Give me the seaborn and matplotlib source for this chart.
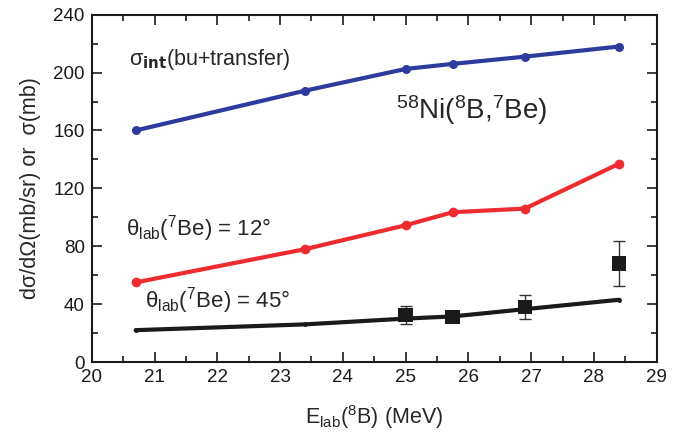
import numpy as np
import pandas as pd
import matplotlib
matplotlib.use("Agg")
import matplotlib.pyplot as plt
import seaborn as sns
from matplotlib.ticker import MultipleLocator

# beam energies (MeV)
energy = [20.7, 23.4, 25.0, 25.75, 26.9, 28.4]
# integrated cross section (bu+transfer), mb
sigma_int = [160, 187.5, 202.5, 206, 211, 218]
# angular cross sections, mb/sr
theta12 = [55, 78, 94.5, 103.5, 106, 137]
theta45 = [22, 26, 30, 31.5, 36.5, 43]
# experimental points at 45 deg
exp_energy = [25.0, 25.75, 26.9, 28.4]
exp_value = [32.5, 31, 38, 68]
exp_err = [6.5, 2, 8.5, 15.5]

sns.set_style("ticks")
plt.rcParams["font.family"] = ["Liberation Sans", "DejaVu Sans"]
plt.rcParams["mathtext.default"] = "regular"

df = pd.DataFrame({
    "E": energy * 3,
    "val": sigma_int + theta12 + theta45,
    "curve": ["int"] * 6 + ["12"] * 6 + ["45"] * 6,
})

fig = plt.figure(figsize=(6.96, 4.45), dpi=100)
ax = fig.add_axes([0.1318, 0.1865, 0.8117, 0.7805])

colors = {"int": "#2e3a9c", "12": "#ee2b2f", "45": "#1a1a1a"}
sizes = {"int": 6.5, "12": 7, "45": 3.5}
for key in ["int", "12", "45"]:
    sub = df[df["curve"] == key]
    sns.lineplot(data=sub, x="E", y="val", ax=ax, color=colors[key], lw=3,
                 marker="o", markersize=sizes[key], markeredgewidth=0, legend=False)

ax.errorbar(exp_energy, exp_value, yerr=exp_err, fmt="none", ecolor="#333333",
            elinewidth=1.0, capsize=4, capthick=1.0, zorder=4)
sns.scatterplot(x=exp_energy, y=exp_value, ax=ax, marker="s", s=110,
                color="#1a1a1a", edgecolor="none", zorder=5)

ax.set_xlim(20, 29)
ax.set_ylim(0, 240)
ax.xaxis.set_major_locator(MultipleLocator(1))
ax.xaxis.set_minor_locator(MultipleLocator(0.5))
ax.yaxis.set_major_locator(MultipleLocator(40))
ax.yaxis.set_minor_locator(MultipleLocator(20))
ax.tick_params(which="both", direction="in", top=True, right=True, width=1.2,
               labelsize=13.5, colors="#1a1a1a")
ax.tick_params(which="major", length=7, pad=5)
ax.tick_params(which="minor", length=4)
for s in ax.spines.values():
    s.set_linewidth(1.5)
    s.set_color("#1a1a1a")

ax.set_xlabel("E$_{lab}$($^{8}$B) (MeV)", fontsize=15.5, labelpad=12)
ax.set_ylabel("d\u03c3/d\u03a9(mb/sr) or  \u03c3(mb)", fontsize=15.5, labelpad=9)

ax.text(20.6, 209, "\u03c3$_{\\bf int}$(bu+transfer)", fontsize=15.5, va="center")
ax.text(26.05, 174, "$^{58}$Ni($^{8}$B,$^{7}$Be)", fontsize=20, ha="center", va="center")
ax.text(20.55, 92, "\u03b8$_{lab}$($^{7}$Be) = 12\u00b0", fontsize=16, va="center")
ax.text(20.85, 42.5, "\u03b8$_{lab}$($^{7}$Be) = 45\u00b0", fontsize=16, va="center")

fig.savefig("out.png", dpi=100)
